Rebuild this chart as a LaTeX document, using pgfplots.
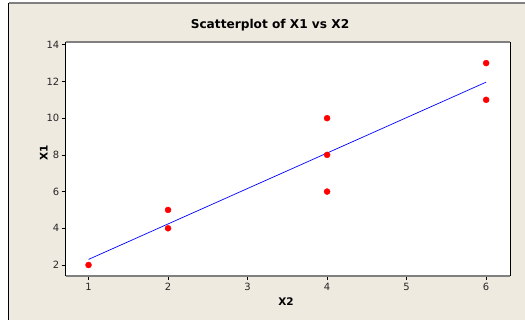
\documentclass[border=0pt]{standalone}
\usepackage{pgfplots}
\pgfplotsset{compat=1.18}
\usepackage{fontspec}
\setmainfont{DejaVu Sans}
\definecolor{bgbeige}{RGB}{238,234,224}
\definecolor{frgray}{RGB}{128,128,128}
\begin{document}
\begin{tikzpicture}
\fill[white] (0bp,0bp) rectangle (525bp,320bp);
\fill[bgbeige] (8.5bp,0bp) rectangle (525bp,317bp);
\draw[frgray,line width=1.2bp] (8.5bp,317bp) -- (525bp,317bp);
\draw[black,line width=1bp] (8.5bp,0bp) -- (8.5bp,317bp);
\node[font=\bfseries\fontsize{12.2}{14}\selectfont] at (270bp,295bp) {Scatterplot of X1 vs X2};
\begin{axis}[
  at={(65.7bp,44bp)}, anchor=south west,
  scale only axis, width=444.3bp, height=234bp,
  xmin=0.713, xmax=6.30, ymin=1.40, ymax=14.15,
  axis background/.style={fill=white},
  axis line style={draw=none},
  xtick={1,2,3,4,5,6}, ytick={2,4,6,8,10,12,14},
  tick align=outside, tick pos=left,
  major tick length=4bp,
  tick style={black,line width=0.6bp},
  ticklabel style={font=\fontsize{10}{12}\selectfont, text=black!85},
  yticklabel style={xshift=1bp},
  /pgf/number format/assume math mode=true,
  xlabel={\bfseries X2}, ylabel={\bfseries X1},
  label style={font=\bfseries\fontsize{10.5}{12}\selectfont},
  xlabel style={at={(axis description cs:0.496,0)}, anchor=center, yshift=-25.5bp},
  ylabel style={at={(axis description cs:0,0.527)}, anchor=center, yshift=22bp},
  clip=false,
]
\addplot[blue, line width=0.7bp] coordinates {(1,2.30367) (6,11.96335)};
\addplot[only marks, mark=*, mark size=3bp, color=red, mark options={fill=red, draw=red}]
  coordinates {(1,2) (2,4) (2,5) (4,6) (4,8) (4,10) (6,11) (6,13)};
\draw[frgray,line width=1.2bp] (rel axis cs:0,1) -- (rel axis cs:1,1);
\draw[frgray,line width=1.2bp] (rel axis cs:0,0) -- (rel axis cs:1,0);
\draw[black,line width=1bp] (rel axis cs:0,0) -- (rel axis cs:0,1);
\draw[black,line width=1bp] (rel axis cs:1,0) -- (rel axis cs:1,1);
\end{axis}
\pgfresetboundingbox
\useasboundingbox (0bp,0bp) rectangle (525bp,320bp);
\end{tikzpicture}
\end{document}
